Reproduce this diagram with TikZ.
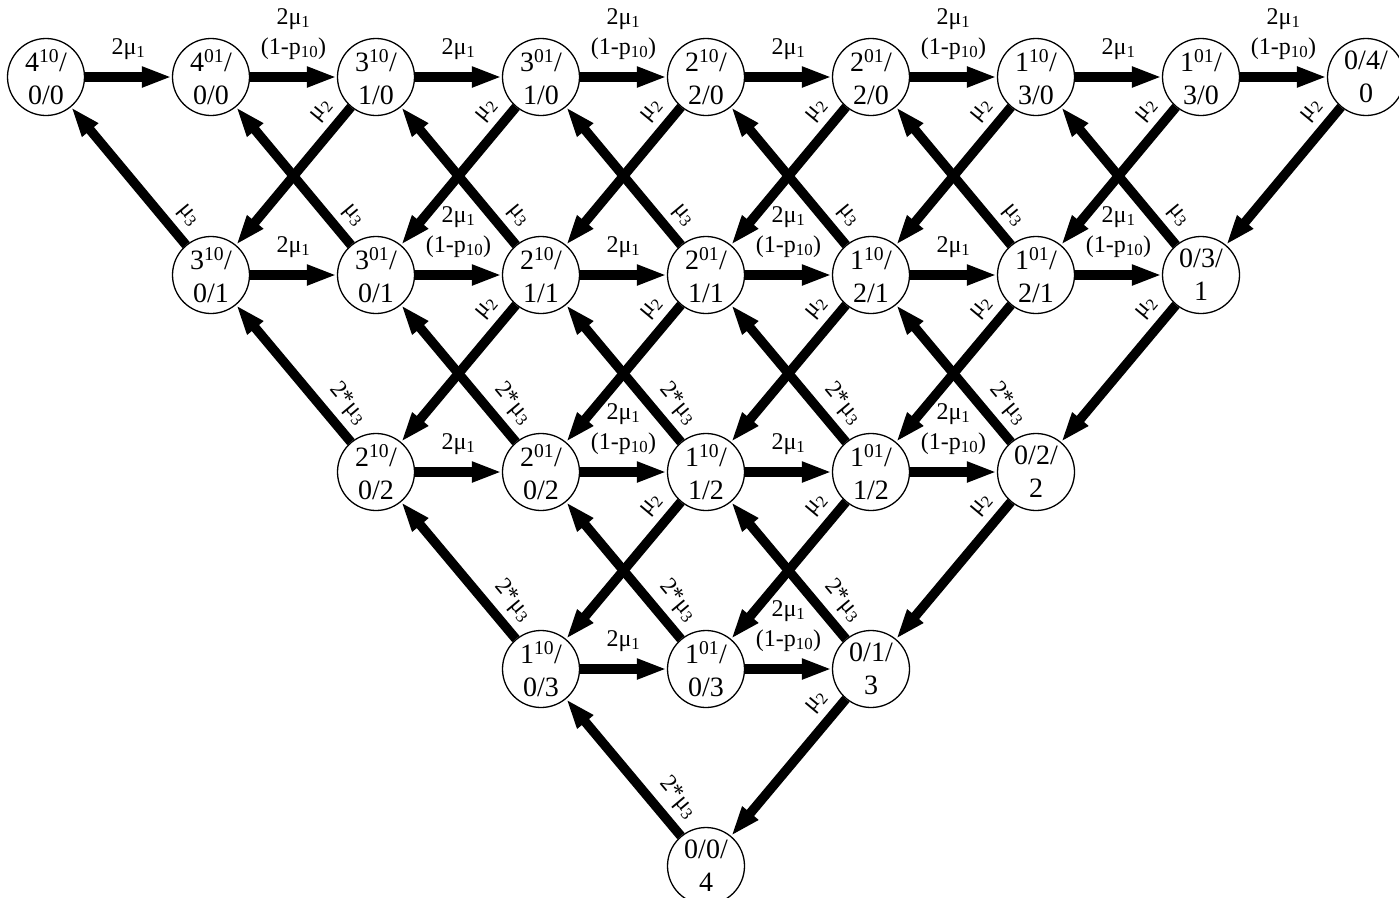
\documentclass[tikz,border=0pt]{standalone}
\usepackage{fontspec}
\setmainfont{Liberation Serif}
\usetikzlibrary{arrows.meta}
\newcommand\hlA{2μ\textsubscript{1}}
\newcommand\hlB{2μ\textsubscript{1}\\(1-p\textsubscript{10})}
\newcommand\mutwo{μ\textsubscript{2}}
\newcommand\muthree{μ\textsubscript{3}}
\newcommand\mutthree{2*μ\textsubscript{3}}
\begin{document}
\begin{tikzpicture}[x=1pt,y=-1pt,
  st/.style={circle,draw,line width=1.3pt,fill=white,minimum size=77pt,inner sep=0pt,align=center,font=\fontsize{28}{33}\selectfont},
  tr/.style={line width=9.5pt,-{Triangle[length=30pt,width=19pt]}},
  lab/.style={font=\fontsize{24}{30}\selectfont,inner sep=0pt,align=center},
  hl/.style={lab,midway,above=13pt},
  sl/.style={lab,sloped,above=7pt}]
\useasboundingbox (0,0) rectangle (1399,897);
% row 0
\node[st] (A0) at (46,77)   {4\textsuperscript{10}/\\0/0};
\node[st] (A1) at (211,77)  {4\textsuperscript{01}/\\0/0};
\node[st] (A2) at (376,77)  {3\textsuperscript{10}/\\1/0};
\node[st] (A3) at (541,77)  {3\textsuperscript{01}/\\1/0};
\node[st] (A4) at (706,77)  {2\textsuperscript{10}/\\2/0};
\node[st] (A5) at (871,77)  {2\textsuperscript{01}/\\2/0};
\node[st] (A6) at (1036,77) {1\textsuperscript{10}/\\3/0};
\node[st] (A7) at (1201,77) {1\textsuperscript{01}/\\3/0};
\node[st] (A8) at (1366,77) {0/4/\\0};
% row 1
\node[st] (B1) at (211,275)  {3\textsuperscript{10}/\\0/1};
\node[st] (B2) at (376,275)  {3\textsuperscript{01}/\\0/1};
\node[st] (B3) at (541,275)  {2\textsuperscript{10}/\\1/1};
\node[st] (B4) at (706,275)  {2\textsuperscript{01}/\\1/1};
\node[st] (B5) at (871,275)  {1\textsuperscript{10}/\\2/1};
\node[st] (B6) at (1036,275) {1\textsuperscript{01}/\\2/1};
\node[st] (B7) at (1201,275) {0/3/\\1};
% row 2
\node[st] (C2) at (376,472)  {2\textsuperscript{10}/\\0/2};
\node[st] (C3) at (541,472)  {2\textsuperscript{01}/\\0/2};
\node[st] (C4) at (706,472)  {1\textsuperscript{10}/\\1/2};
\node[st] (C5) at (871,472)  {1\textsuperscript{01}/\\1/2};
\node[st] (C6) at (1036,472) {0/2/\\2};
% row 3
\node[st] (D3) at (541,669) {1\textsuperscript{10}/\\0/3};
\node[st] (D4) at (706,669) {1\textsuperscript{01}/\\0/3};
\node[st] (D5) at (871,669) {0/1/\\3};
% row 4
\node[st] (E4) at (706,866) {0/0/\\4};
% horizontal
\foreach \s/\t in {A0/A1,A2/A3,A4/A5,A6/A7,B1/B2,B3/B4,B5/B6,C2/C3,C4/C5,D3/D4}
  \draw[tr] (\s) -- node[hl]{\hlA} (\t);
\foreach \s/\t in {A1/A2,A3/A4,A5/A6,A7/A8,B2/B3,B4/B5,B6/B7,C3/C4,C5/C6,D4/D5}
  \draw[tr] (\s) -- node[hl]{\hlB} (\t);
% mu2 down-left
\foreach \s/\t in {A2/B1,A3/B2,A4/B3,A5/B4,A6/B5,A7/B6,A8/B7,B3/C2,B4/C3,B5/C4,B6/C5,B7/C6,C4/D3,C5/D4,C6/D5,D5/E4}
  \draw[tr] (\s) -- node[sl,pos=0.12]{\mutwo} (\t);
% mu3 up-left
\foreach \s/\t in {B1/A0,B2/A1,B3/A2,B4/A3,B5/A4,B6/A5,B7/A6}
  \draw[tr] (\s) -- node[sl,pos=0.12]{\muthree} (\t);
\foreach \s/\t in {C2/B1,C3/B2,C4/B3,C5/B4,C6/B5,D3/C2,D4/C3,D5/C4,E4/D3}
  \draw[tr] (\s) -- node[sl,pos=0.175]{\mutthree} (\t);
\end{tikzpicture}
\end{document}
